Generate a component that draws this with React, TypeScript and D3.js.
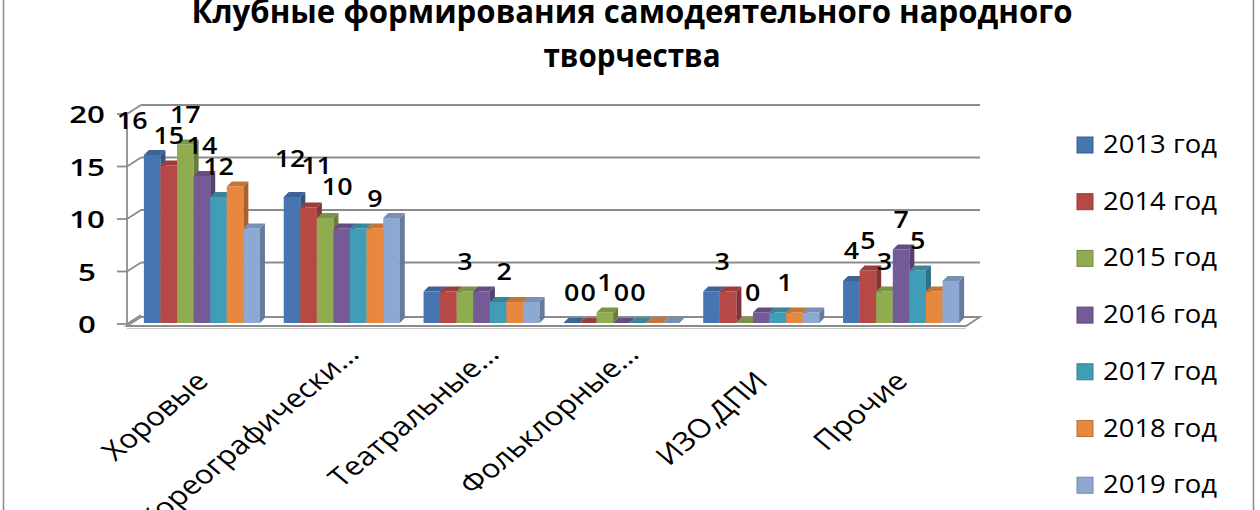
import * as d3 from "d3";
import { useEffect, useRef } from "react";

const categories = [
  "Хоровые",
  "Хореографически…",
  "Театральные…",
  "Фольклорные…",
  "ИЗО,ДПИ",
  "Прочие",
];
const years = ["2013 год", "2014 год", "2015 год", "2016 год", "2017 год", "2018 год", "2019 год"];
const v2013 = [16, 12, 3, 0, 3, 4];
const v2014 = [15, 11, 3, 0, 3, 5];
const v2015 = [17, 10, 3, 1, 0, 3];
const v2016 = [14, 9, 3, 0, 1, 7];
const v2017 = [12, 9, 2, 0, 1, 5];
const v2018 = [13, 9, 2, 0, 1, 3];
const v2019 = [9, 10, 2, 0, 1, 4];
const yTicks = [0, 5, 10, 15, 20];
// series index of the bars that carry a data label, per category
const labelled = [
  [0, 1, 2, 3, 4],
  [0, 1, 2, 5],
  [2, 4],
  [0, 1, 2, 3, 4],
  [1, 2, 4],
  [0, 1, 2, 3, 4],
];
const titleLines = ["Клубные формирования самодеятельного народного", "творчества"];

const series = [v2013, v2014, v2015, v2016, v2017, v2018, v2019];
const colors = ["#4775B0", "#B64845", "#8FAD50", "#745A97", "#419DB7", "#E8883E", "#8DA9D3"];

// hand moved labels in the original
const nudge: Record<string, [number, number]> = {
  "0-0": [-20, -4],
  "1-0": [-2, -8],
  "1-1": [8, -12],
  "1-2": [12, -1],
  "2-4": [6, 0],
  "4-1": [-6, 0],
  "4-2": [8, 0],
  "4-4": [7, 0],
};

const FONT = "'Open Sans', 'Noto Sans', sans-serif";

export default function App() {
  const ref = useRef<SVGSVGElement | null>(null);

  useEffect(() => {
    if (!ref.current) return;
    const svg = d3.select(ref.current);
    svg.selectAll("*").remove();

    const W = 1260;
    const H = 510;
    svg.attr("width", W).attr("height", H);

    const grey = "#8c8c8c";
    const depth = { dx: 14, dy: -9 };
    const barDepth = 5;
    const axisX = 127;
    const wallRight = 980;

    const x = d3
      .scaleBand<string>()
      .domain(categories)
      .range([132, 971])
      .paddingInner(0.17)
      .paddingOuter(0.085);
    const xs = d3.scaleBand<string>().domain(years).range([0, x.bandwidth()]);
    const y = d3.scaleLinear().domain([0, 20]).range([324, 114]);

    // outer chart border
    svg
      .append("rect")
      .attr("x", 3.5)
      .attr("y", -20)
      .attr("width", 1250)
      .attr("height", H + 40)
      .attr("fill", "white")
      .attr("stroke", "#8a8a8a")
      .attr("stroke-width", 1.5);

    // title
    svg
      .append("g")
      .selectAll("text")
      .data(titleLines)
      .enter()
      .append("text")
      .attr("x", 632)
      .attr("y", (_, i) => 23 + i * 44)
      .attr("text-anchor", "middle")
      .attr("font-family", FONT)
      .attr("font-weight", "bold")
      .attr("font-size", 32)
      .attr("textLength", (_, i) => (i === 0 ? 881 : 177))
      .attr("lengthAdjust", "spacingAndGlyphs")
      .attr("fill", "#000")
      .text((d) => d);

    const walls = svg.append("g").attr("stroke", grey).attr("stroke-width", 1.8).attr("fill", "none");

    // floor
    const y0 = y(0) + 2;
    walls
      .append("path")
      .attr("fill", "white")
      .attr(
        "d",
        `M${axisX},${y0}L${wallRight - depth.dx},${y0}L${wallRight},${y0 + depth.dy}L${axisX + depth.dx},${y0 + depth.dy}Z`
      );
    walls
      .append("line")
      .attr("x1", axisX)
      .attr("x2", wallRight - depth.dx)
      .attr("y1", y0 + 2.5)
      .attr("y2", y0 + 2.5)
      .attr("stroke", "#c8c8c8")
      .attr("stroke-width", 1.2);

    // back wall gridlines
    walls
      .selectAll("line.grid")
      .data(yTicks.filter((t) => t > 0))
      .enter()
      .append("line")
      .attr("x1", axisX + depth.dx)
      .attr("x2", wallRight)
      .attr("y1", (d) => y(d) + depth.dy)
      .attr("y2", (d) => y(d) + depth.dy);

    // side wall diagonals + ticks
    walls
      .selectAll("line.diag")
      .data(yTicks)
      .enter()
      .append("line")
      .attr("x1", axisX)
      .attr("y1", (d) => y(d))
      .attr("x2", axisX + depth.dx)
      .attr("y2", (d) => y(d) + depth.dy);
    walls
      .selectAll("line.tick")
      .data(yTicks)
      .enter()
      .append("line")
      .attr("x1", axisX - 10)
      .attr("x2", axisX)
      .attr("y1", (d) => y(d))
      .attr("y2", (d) => y(d));
    walls
      .append("line")
      .attr("x1", axisX)
      .attr("x2", axisX)
      .attr("y1", y(20))
      .attr("y2", y0);

    // y tick labels
    svg
      .append("g")
      .selectAll("text")
      .data(yTicks)
      .enter()
      .append("text")
      .attr("transform", (d) => `translate(87,${y(d) + 9}) scale(1.3,1)`)
      .attr("text-anchor", "middle")
      .attr("font-family", FONT)
      .attr("font-weight", 600)
      .attr("font-size", 24)
      .text((d) => d);

    // bars
    const bars = svg.append("g");
    categories.forEach((cat, ci) => {
      years.forEach((yr, si) => {
        const v = series[si][ci];
        const c = d3.color(colors[si])!;
        const x0 = x(cat)! + xs(yr)!;
        const w = xs.bandwidth();
        const top = y(v) - 1;
        const base = y(0) - 1;
        const d = barDepth;
        const g = bars.append("g");
        g.append("rect")
          .attr("x", x0)
          .attr("y", top)
          .attr("width", w)
          .attr("height", base - top)
          .attr("fill", colors[si]);
        g.append("path")
          .attr("d", `M${x0 + w},${top}L${x0 + w + d},${top - d}L${x0 + w + d},${base - d}L${x0 + w},${base}Z`)
          .attr("fill", c.darker(0.9).formatHex());
        g.append("path")
          .attr("d", `M${x0},${top}L${x0 + d},${top - d}L${x0 + w + d},${top - d}L${x0 + w},${top}Z`)
          .attr("fill", c.darker(0.45).formatHex());
      });
    });

    // data labels
    const labels = svg
      .append("g")
      .attr("font-family", FONT)
      .attr("font-size", 24)
      .attr("font-weight", 600)
      .attr("fill", "#000");
    categories.forEach((cat, ci) => {
      labelled[ci].forEach((si) => {
        const v = series[si][ci];
        const [nx, ny] = nudge[`${ci}-${si}`] ?? [0, 0];
        const cx = x(cat)! + xs(years[si])! + xs.bandwidth() / 2 + nx;
        const by = y(v) - 1 - 22 + ny;
        labels
          .append("text")
          .attr("transform", `translate(${cx},${by}) scale(1.12,1)`)
          .attr("text-anchor", "middle")
          .text(v);
      });
    });

    // category labels (rotated)
    svg
      .append("g")
      .selectAll("text")
      .data(categories)
      .enter()
      .append("text")
      .attr("transform", (d) => {
        const full = !d.endsWith("…");
        const cx = x(d)! + x.bandwidth() / 2;
        const bx = cx + (full ? 8 : 19);
        const by = full ? 383 : 356;
        return `translate(${bx},${by}) scale(1.2,1) rotate(-45)`;
      })
      .attr("text-anchor", "end")
      .attr("font-family", FONT)
      .attr("font-size", 26)
      .text((d) => d);

    // legend
    const legend = svg
      .append("g")
      .selectAll("g")
      .data(years)
      .enter()
      .append("g")
      .attr("transform", (_, i) => `translate(1077,${137 + i * 56.7})`);
    legend
      .append("rect")
      .attr("width", 16)
      .attr("height", 16)
      .attr("fill", (_, i) => colors[i])
      .attr("stroke", (_, i) => d3.color(colors[i])!.darker(0.6).formatHex())
      .attr("stroke-width", 1);
    legend
      .append("text")
      .attr("x", 26)
      .attr("y", 16)
      .attr("font-family", FONT)
      .attr("font-size", 25)
      .attr("textLength", 114)
      .attr("lengthAdjust", "spacingAndGlyphs")
      .text((d) => d);
  }, []);

  return (
    <div>
      <svg ref={ref} style={{ position: "absolute", left: 0, top: 0, display: "block" }}></svg>
    </div>
  );
}
